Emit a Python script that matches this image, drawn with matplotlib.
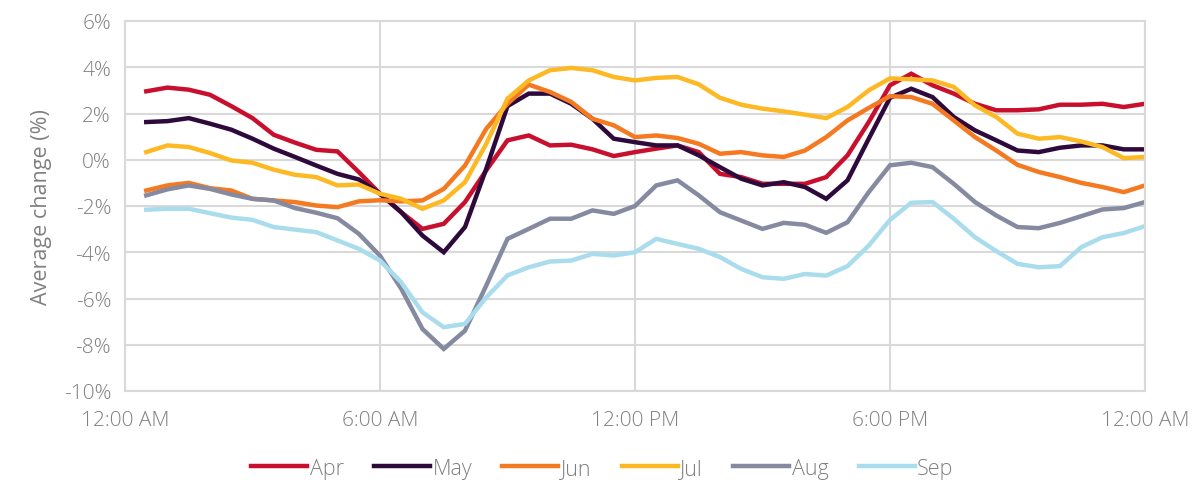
import numpy as np
import matplotlib
matplotlib.use('Agg')
import matplotlib.pyplot as plt
from matplotlib.ticker import FuncFormatter

plt.rcParams['font.family'] = ['Open Sans', 'DejaVu Sans']
plt.rcParams['font.weight'] = 'light'

# half-hour slots, 00:30 .. 24:00
horas = np.arange(1, 49) * 0.5

abr = [2.96, 3.12, 3.03, 2.81, 2.32, 1.80, 1.08, 0.74, 0.43, 0.36, -0.53, -1.47,
       -2.27, -2.99, -2.77, -1.83, -0.46, 0.84, 1.05, 0.62, 0.65, 0.45, 0.16, 0.33,
       0.48, 0.62, 0.33, -0.61, -0.75, -1.04, -1.04, -1.04, -0.75, 0.19, 1.63, 3.22,
       3.72, 3.22, 2.86, 2.42, 2.14, 2.14, 2.18, 2.38, 2.38, 2.42, 2.28, 2.42]
may = [1.63, 1.67, 1.80, 1.56, 1.30, 0.91, 0.48, 0.12, -0.25, -0.61, -0.85, -1.47,
       -2.27, -3.28, -4.00, -2.91, -0.39, 2.32, 2.86, 2.86, 2.42, 1.77, 0.91, 0.76,
       0.62, 0.62, 0.19, -0.32, -0.82, -1.11, -0.97, -1.18, -1.69, -0.89, 0.91, 2.68,
       3.07, 2.71, 1.85, 1.27, 0.84, 0.40, 0.33, 0.52, 0.62, 0.62, 0.45, 0.45]
jun = [-1.33, -1.11, -1.00, -1.23, -1.33, -1.69, -1.76, -1.83, -1.98, -2.05, -1.80, -1.75,
       -1.80, -1.76, -1.26, -0.25, 1.34, 2.42, 3.25, 2.93, 2.50, 1.77, 1.49, 0.98,
       1.05, 0.94, 0.69, 0.26, 0.33, 0.19, 0.12, 0.40, 0.98, 1.70, 2.24, 2.75,
       2.71, 2.42, 1.70, 0.98, 0.40, -0.22, -0.53, -0.75, -1.00, -1.18, -1.40, -1.11]
jul = [0.33, 0.62, 0.55, 0.29, -0.03, -0.13, -0.43, -0.65, -0.75, -1.11, -1.07, -1.47,
       -1.69, -2.12, -1.76, -0.97, 0.69, 2.64, 3.43, 3.87, 3.97, 3.87, 3.58, 3.43,
       3.54, 3.58, 3.26, 2.68, 2.38, 2.21, 2.09, 1.95, 1.80, 2.28, 3.00, 3.52,
       3.48, 3.43, 3.15, 2.35, 1.85, 1.13, 0.91, 0.98, 0.79, 0.55, 0.07, 0.12]
ago = [-1.54, -1.28, -1.11, -1.26, -1.50, -1.69, -1.76, -2.09, -2.29, -2.53, -3.20, -4.15,
       -5.58, -7.32, -8.18, -7.39, -5.44, -3.42, -2.99, -2.55, -2.55, -2.19, -2.34, -2.00,
       -1.11, -0.89, -1.54, -2.27, -2.63, -2.99, -2.73, -2.81, -3.16, -2.70, -1.40, -0.24,
       -0.13, -0.32, -1.04, -1.83, -2.41, -2.91, -2.96, -2.73, -2.44, -2.15, -2.09, -1.83]
sep = [-2.16, -2.12, -2.12, -2.31, -2.50, -2.60, -2.91, -3.02, -3.13, -3.49, -3.85, -4.36,
       -5.30, -6.60, -7.24, -7.10, -5.95, -5.00, -4.65, -4.40, -4.36, -4.07, -4.14, -4.00,
       -3.42, -3.64, -3.85, -4.21, -4.72, -5.08, -5.15, -4.94, -5.01, -4.60, -3.71, -2.60,
       -1.86, -1.83, -2.55, -3.35, -3.95, -4.50, -4.65, -4.60, -3.78, -3.35, -3.17, -2.87]

meses = ['Apr', 'May', 'Jun', 'Jul', 'Aug', 'Sep']
series = [abr, may, jun, jul, ago, sep]
colores = ['#c8102e', '#2e0a3c', '#f47920', '#fdb924', '#868aa0', '#a9dcec']

etiquetas_x = ['12:00 AM', '6:00 AM', '12:00 PM', '6:00 PM', '12:00 AM']

fig = plt.figure(figsize=(12, 4.81), dpi=100)
ax = fig.add_axes([125 / 1200, 89 / 481, 1020 / 1200, 370 / 481])

for mes, vals, c in zip(meses, series, colores):
    ax.plot(horas, vals, color=c, lw=3.2, label=mes, solid_joinstyle='miter')

gris = '#d9d9d9'
texto = '#808080'
ax.set_xlim(0, 24)
ax.set_ylim(-10, 6)
ax.set_xticks([0, 6, 12, 18, 24])
ax.set_xticklabels(etiquetas_x)
ax.set_yticks(np.arange(-10, 7, 2))
ax.yaxis.set_major_formatter(FuncFormatter(lambda v, p: f'{v:.0f}%'))
ax.grid(True, color=gris, lw=1.5)
ax.set_axisbelow(True)
for s in ax.spines.values():
    s.set_color(gris)
    s.set_linewidth(1.5)
ax.tick_params(length=0, labelsize=15, colors=texto, pad=10)
ax.tick_params(axis='x', pad=14)
ax.set_ylabel('Average change (%)', fontsize=15.5, color=texto, labelpad=8)

fig.legend(loc='center', bbox_to_anchor=(0.502, 0.024), ncol=6, frameon=False,
           fontsize=15.5, handlelength=2.6, handletextpad=0.12, columnspacing=1.4,
           labelcolor=texto)

fig.savefig('out.png', dpi=100)
